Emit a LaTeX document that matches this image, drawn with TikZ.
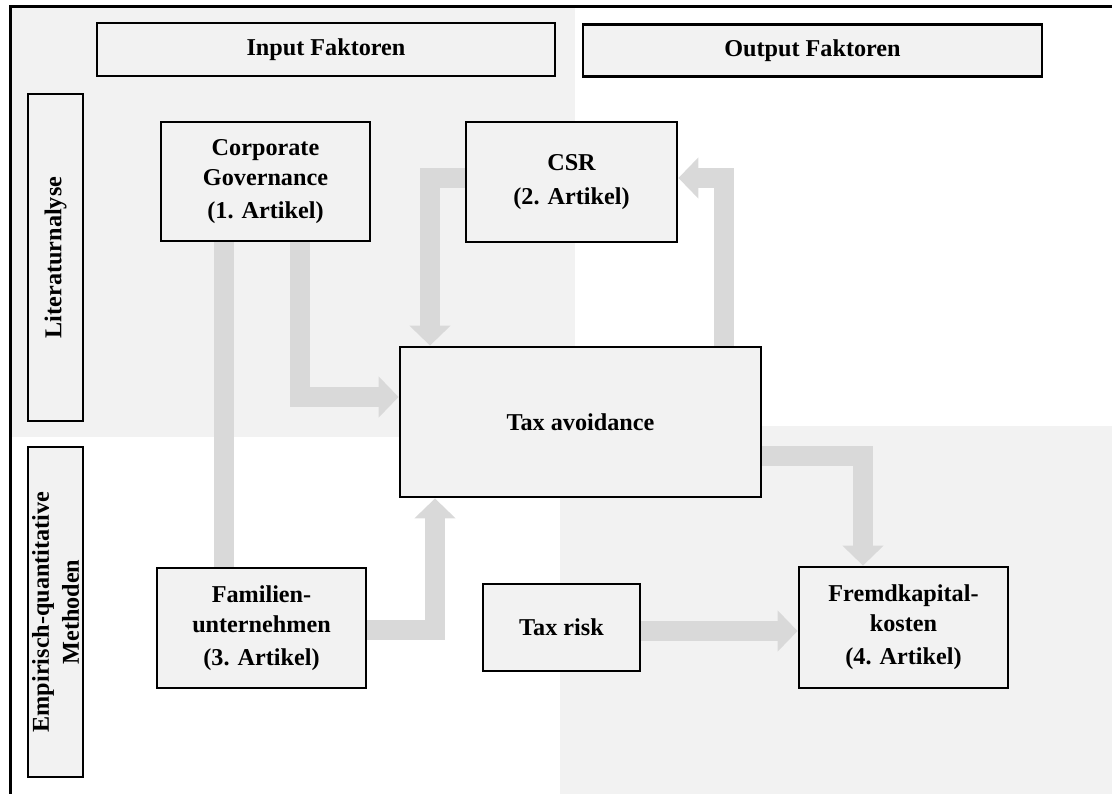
\documentclass[tikz,border=0pt]{standalone}
\usepackage{fontspec}
\setmainfont{Liberation Serif}
\usetikzlibrary{arrows.meta}
\definecolor{panel}{HTML}{F2F2F2}
\definecolor{arrowgray}{HTML}{D9D9D9}
\pgfdeclarelayer{bg}
\pgfsetlayers{bg,main}
\tikzset{
  box/.style={draw=black, line width=2.8pt, fill=panel, align=center, inner sep=0pt,
    font=\fontsize{24.2}{30}\selectfont\bfseries},
  flow/.style={draw=arrowgray, line width=20pt, line join=miter,
    -{Triangle[length=20pt,width=40pt]}},
  bar/.style={draw=arrowgray, line width=20pt},
}
\begin{document}
\begin{tikzpicture}[x=1pt,y=-1pt]
\useasboundingbox (0,0) rectangle (1112,794);
% nodes
\node[box, minimum width=458pt, minimum height=53pt] (in) at (326,49.5) {Input Faktoren};
\node[box, minimum width=459pt, minimum height=52pt] (out) at (812.5,50.5) {Output Faktoren};
\node[box, minimum width=327pt, minimum height=55pt, rotate=90] (lit) at (55.5,257.5) {Literaturnalyse};
\node[box, minimum width=330pt, minimum height=55pt, rotate=90] (emp) at (55.5,612) {Empirisch-quantitative\\Methoden};
\node[box, minimum width=209pt, minimum height=119pt] (cg) at (265.5,181.5) {Corporate\\Governance\\[3pt](1. Artikel)};
\node[box, minimum width=211pt, minimum height=120pt] (csr) at (571.5,182) {CSR\\[4pt](2. Artikel)};
\node[box, minimum width=361pt, minimum height=150pt] (ta) at (580.5,422) {Tax avoidance};
\node[box, minimum width=209pt, minimum height=120pt] (fam) at (261.5,628) {Familien-\\unternehmen\\[3pt](3. Artikel)};
\node[box, minimum width=157pt, minimum height=87pt] (tr) at (561.5,627.5) {Tax risk};
\node[box, minimum width=209pt, minimum height=121pt] (fk) at (903.5,627.5) {Fremdkapital-\\kosten\\[3pt](4. Artikel)};
% routing coordinates
\coordinate (a1) at (224,0);
\coordinate (a2) at (300,397);
\coordinate (a3) at (430,178);
\coordinate (a4) at (724,178);
\coordinate (a5) at (863,456);
\coordinate (a6) at (435,630);
\coordinate (a7) at (0,631);
\begin{pgfonlayer}{bg}
  \fill[panel] (11,7) rectangle (575,437);
  \fill[panel] (560,426) rectangle (1112,794);
  \draw[bar] (cg.south -| a1) -- (fam.north -| a1);
  \draw[flow] (cg.south -| a2) |- (ta.west |- a2);
  \draw[flow] (csr.west |- a3) -| (ta.north -| a3);
  \draw[flow] (ta.north -| a4) |- (csr.east |- a4);
  \draw[flow] (ta.east |- a5) -| (fk.north -| a5);
  \draw[flow] (fam.east |- a6) -| (ta.south -| a6);
  \draw[flow] (tr.east |- a7) -- (fk.west |- a7);
\end{pgfonlayer}
% outer frame
\draw[line width=3pt] (10,794) -- (10,6.3) -- (1112,6.3);
\end{tikzpicture}
\end{document}
